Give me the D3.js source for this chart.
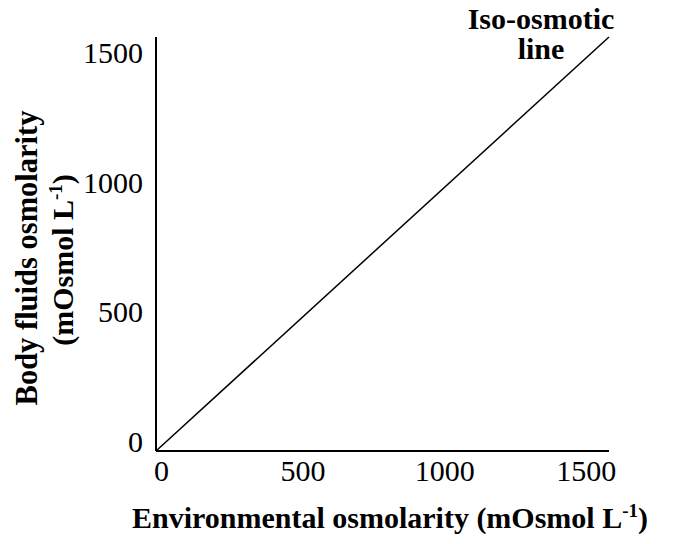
<!DOCTYPE html>
<html><head><meta charset="utf-8">
<script src="https://cdn.jsdelivr.net/npm/d3@7"></script>
<style>body{margin:0;background:#fff}text{font-family:"Liberation Serif","Times New Roman",serif;fill:#000}</style>
</head><body><svg id="c" width="686" height="544"></svg>
<script>
const xTicks = [0, 500, 1000, 1500];
const yTicks = [0, 500, 1000, 1500];
const isoLineX = [0, 1600];
const isoLineY = [0, 1600];
const xTitle = "Environmental osmolarity (mOsmol L";
const yTitle1 = "Body fluids osmolarity";
const yTitle2 = "(mOsmol L";
const lineLabel = ["Iso-osmotic", "line"];

const svg = d3.select("#c");
const x = d3.scaleLinear().domain([0, 1600]).range([156, 609]);
const y = d3.scaleLinear().domain([0, 1600]).range([451, 37]);

// axes
const xAxis = svg.append("g").attr("transform", `translate(0,${y(0)})`)
  .call(d3.axisBottom(x).tickValues(xTicks).tickSize(0).tickPadding(8).tickFormat(d3.format("d")));
xAxis.select(".domain").attr("stroke", "#000").attr("stroke-width", 2).attr("d", `M${x(0)},0H${x(1600)}`);
xAxis.selectAll("text").attr("font-size", 30).attr("dx", 5).attr("dy", "0.72em");

const yAxis = svg.append("g").attr("transform", `translate(${x(0)},0)`)
  .call(d3.axisLeft(y).tickValues(yTicks).tickSize(0).tickPadding(13).tickFormat(d3.format("d")));
yAxis.select(".domain").attr("stroke", "#000").attr("stroke-width", 2).attr("d", `M0,${y(0)}V${y(1600)}`);
yAxis.selectAll("text").attr("font-size", 30).attr("dy", "0.0em");

// iso-osmotic line
svg.append("path")
  .datum(isoLineX.map((v, i) => [v, isoLineY[i]]))
  .attr("fill", "none").attr("stroke", "#000").attr("stroke-width", 1.5)
  .attr("d", d3.line().x(d => x(d[0])).y(d => y(d[1])));

// line label
svg.append("text").attr("x", 541).attr("y", 29).attr("text-anchor", "middle")
  .attr("font-size", 30).attr("font-weight", "bold").text(lineLabel[0]);
svg.append("text").attr("x", 541).attr("y", 59).attr("text-anchor", "middle")
  .attr("font-size", 30).attr("font-weight", "bold").text(lineLabel[1]);

// x title
const xt = svg.append("text").attr("x", 390).attr("y", 528).attr("text-anchor", "middle")
  .attr("font-size", 30).attr("font-weight", "bold");
xt.append("tspan").text(xTitle);
xt.append("tspan").attr("font-size", 19).attr("dy", -11).text("-1");
xt.append("tspan").attr("dy", 11).text(")");

// y title
const yg = svg.append("g").attr("transform", "translate(0,258) rotate(-90)");
yg.append("text").attr("x", 0).attr("y", 37).attr("text-anchor", "middle")
  .attr("font-size", 30.5).attr("font-weight", "bold").text(yTitle1);
const yt2 = yg.append("text").attr("x", -2).attr("y", 73).attr("text-anchor", "middle")
  .attr("font-size", 30).attr("font-weight", "bold");
yt2.append("tspan").text(yTitle2);
yt2.append("tspan").attr("font-size", 19).attr("dy", -11).text("-1");
yt2.append("tspan").attr("dy", 11).text(")");
</script></body></html>
